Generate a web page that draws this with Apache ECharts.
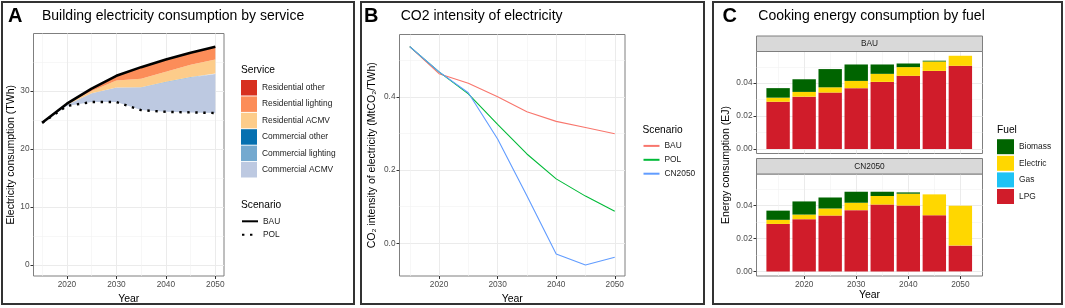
<!DOCTYPE html>
<html><head><meta charset="utf-8">
<script src="https://cdn.jsdelivr.net/npm/echarts@6/dist/echarts.min.js"></script>
<style>html,body{margin:0;padding:0;background:#fff}#c{width:1065px;height:308px}</style>
</head><body><div id="c"></div>
<script>
// ---------- data ----------
const years = [2015, 2020, 2025, 2030, 2035, 2040, 2045, 2050];
// Panel A (TWh): POL level and savings by service stacked on top of it
const aPOL = [24.5, 27.4, 28.1, 28.1, 26.7, 26.4, 26.3, 26.2];
const aBAU = [24.5, 27.8, 30.4, 32.6, 34.1, 35.4, 36.6, 37.6];
const aCommercialACMV = [0, 0.2, 1.5, 2.5, 3.9, 5.1, 6.0, 6.7];
const aCommercialLighting = [0, 0, 0, 0, 0.05, 0.1, 0.1, 0.1];
const aCommercialOther = [0, 0, 0, 0, 0, 0, 0, 0];
const aResidentialACMV = [0, 0.1, 0.4, 1.2, 1.45, 1.7, 2.1, 2.4];
const aResidentialLighting = [0, 0.1, 0.4, 0.8, 2.0, 2.1, 2.1, 2.2];
const aResidentialOther = [0, 0, 0, 0, 0, 0, 0, 0];
// Panel B (MtCO2/TWh)
const bBAU = [0.537, 0.463, 0.437, 0.400, 0.359, 0.333, 0.316, 0.299];
const bPOL = [0.537, 0.468, 0.408, 0.325, 0.244, 0.176, 0.129, 0.088];
const bCN2050 = [0.537, 0.468, 0.411, 0.285, 0.130, -0.029, -0.059, -0.038];
// Panel C (EJ)
const cBauLPG = [0.0287, 0.0318, 0.0343, 0.0370, 0.0408, 0.0445, 0.0475, 0.0506];
const cBauGas = [0, 0, 0, 0, 0, 0, 0, 0];
const cBauElectric = [0.0025, 0.0029, 0.0032, 0.0044, 0.0049, 0.0053, 0.0057, 0.0061];
const cBauBiomass = [0.0058, 0.0077, 0.0111, 0.0100, 0.0057, 0.0022, 0.0005, 0];
const cCnLPG = [0.0289, 0.0318, 0.0340, 0.0373, 0.0407, 0.0401, 0.0342, 0.0157];
const cCnGas = [0, 0, 0, 0, 0, 0, 0, 0];
const cCnElectric = [0.0025, 0.0028, 0.0043, 0.0045, 0.0052, 0.0072, 0.0127, 0.0243];
const cCnBiomass = [0.0056, 0.0080, 0.0067, 0.0067, 0.0026, 0.0008, 0, 0];
// tick labels / grid breaks
const xTicks = [2020, 2030, 2040, 2050];
const xMinor = [2015, 2025, 2035, 2045];
const aYTicks = [0, 10, 20, 30];
const aYMinor = [5, 15, 25, 35];
const bYTicks = [0, 0.2, 0.4];
const bYMinor = [0.1, 0.3, 0.5];
const cYTicks = [0, 0.02, 0.04];
const cYMinor = [0.01, 0.03, 0.05];

// ---------- helpers ----------
const FONT = 'Liberation Sans';
// value first, year second (encode maps x <- dim 1, y <- dim 0) so stacking happens on the value
const pairs = arr => years.map((y, i) => [arr[i], y]);
const ENC = {x: 1, y: 0};
const tickColor = '#333';
function majorAxis(o) {
  return {
    type: 'value', gridIndex: o.grid, min: o.min, max: o.max, position: o.pos,
    axisLine: {show: false, onZero: false},
    axisTick: {show: o.ticks !== false, length: 3, lineStyle: {color: tickColor, width: 1}, customValues: o.values},
    axisLabel: {show: o.labels !== false, customValues: o.values, margin: o.margin, fontSize: 8.3, color: '#4D4D4D',
      fontFamily: FONT, formatter: o.fmt || (v => String(v))},
    splitLine: {show: true, lineStyle: {color: '#EBEBEB', width: 1}},
    name: o.name || '', nameLocation: 'middle', nameGap: o.nameGap || 0,
    nameTextStyle: {fontSize: 10.5, color: '#000', fontFamily: FONT}
  };
}
function minorAxis(o) {
  return {
    type: 'value', gridIndex: o.grid, min: o.min, max: o.max, position: o.pos,
    axisLine: {show: false, onZero: false},
    axisTick: {show: false, customValues: o.values},
    axisLabel: {show: false},
    splitLine: {show: true, lineStyle: {color: '#F2F2F2', width: 0.6}}
  };
}
const AX = {min: 2013.25, max: 2051.75};
const AY = {min: -1.9, max: 39.9};
const BY = {min: -0.089, max: 0.570};
const CX = {min: 2010.85, max: 2054.25};
const CY = {min: -0.0028, max: 0.0593};

const xAxis = [
  majorAxis({grid: 0, ...AX, pos: 'bottom', values: xTicks, margin: 5, name: 'Year', nameGap: 10.5}),
  minorAxis({grid: 0, ...AX, pos: 'bottom', values: xMinor}),
  majorAxis({grid: 1, ...AX, pos: 'bottom', values: xTicks, margin: 5, name: 'Year', nameGap: 10.5}),
  minorAxis({grid: 1, ...AX, pos: 'bottom', values: xMinor}),
  majorAxis({grid: 2, ...CX, pos: 'bottom', values: xTicks, ticks: false, labels: false}),
  minorAxis({grid: 2, ...CX, pos: 'bottom', values: xMinor}),
  majorAxis({grid: 3, ...CX, pos: 'bottom', values: xTicks, margin: 5, name: 'Year', nameGap: 10.5}),
  minorAxis({grid: 3, ...CX, pos: 'bottom', values: xMinor})
];
const yAxis = [
  majorAxis({grid: 0, ...AY, pos: 'left', values: aYTicks, margin: 4, name: 'Electricity consumption (TWh)', nameGap: 14.5}),
  minorAxis({grid: 0, ...AY, pos: 'left', values: aYMinor}),
  majorAxis({grid: 1, ...BY, pos: 'left', values: bYTicks, margin: 4, fmt: v => v.toFixed(1),
    name: 'CO\u2082 intensity of electricity (MtCO\u2082/TWh)', nameGap: 22}),
  minorAxis({grid: 1, ...BY, pos: 'left', values: bYMinor}),
  majorAxis({grid: 2, ...CY, pos: 'left', values: cYTicks, margin: 4, fmt: v => v.toFixed(2)}),
  minorAxis({grid: 2, ...CY, pos: 'left', values: cYMinor}),
  majorAxis({grid: 3, ...CY, pos: 'left', values: cYTicks, margin: 4, fmt: v => v.toFixed(2)}),
  minorAxis({grid: 3, ...CY, pos: 'left', values: cYMinor})
];
const gridBase = {show: true, borderColor: '#7F7F7F', borderWidth: 1, backgroundColor: '#fff', outerBoundsMode: 'none', containLabel: false};
const grid = [
  {...gridBase, left: 33.5, top: 33.5, width: 190.5, height: 242.5},
  {...gridBase, left: 399.5, top: 34.5, width: 225.5, height: 241.5},
  {...gridBase, left: 756.5, top: 51.5, width: 226, height: 102},
  {...gridBase, left: 756.5, top: 174, width: 226, height: 102}
];

// ---------- series ----------
const series = [];
series.push({type: 'line', name: '_base', xAxisIndex: 0, yAxisIndex: 0, stack: 'A', data: pairs(aPOL), encode: ENC,
  symbol: 'none', lineStyle: {width: 0}, silent: true, z: 2});
const aServices = [
  ['Commercial ACMV', aCommercialACMV, '#BDC9E1'],
  ['Commercial lighting', aCommercialLighting, '#74A9CF'],
  ['Commercial other', aCommercialOther, '#0570B0'],
  ['Residential ACMV', aResidentialACMV, '#FDCC8A'],
  ['Residential lighting', aResidentialLighting, '#FC8D59'],
  ['Residential other', aResidentialOther, '#D7301F']
];
aServices.forEach(([n, arr, c]) => series.push({
  type: 'line', name: n, xAxisIndex: 0, yAxisIndex: 0, stack: 'A', data: pairs(arr), encode: ENC, symbol: 'none',
  lineStyle: {width: 0, color: c}, itemStyle: {color: c}, areaStyle: {color: c, opacity: 1}, z: 2, silent: true
}));
series.push({type: 'line', name: 'A:POL', xAxisIndex: 0, yAxisIndex: 0, data: pairs(aPOL), encode: ENC, symbol: 'none',
  itemStyle: {color: '#000'}, lineStyle: {color: '#000', width: 2.4, type: [2.4, 5.6], cap: 'butt'}, z: 5, silent: true});
series.push({type: 'line', name: 'A:BAU', xAxisIndex: 0, yAxisIndex: 0, data: pairs(aBAU), encode: ENC, symbol: 'none',
  itemStyle: {color: '#000'}, lineStyle: {color: '#000', width: 2.6}, z: 6, silent: true});

[['B:BAU', bBAU, '#F8766D'], ['B:POL', bPOL, '#00BA38'], ['B:CN2050', bCN2050, '#619CFF']].forEach(([n, arr, c]) =>
  series.push({type: 'line', name: n, xAxisIndex: 2, yAxisIndex: 2, data: pairs(arr), encode: ENC, symbol: 'none',
    itemStyle: {color: c}, lineStyle: {color: c, width: 1.1}, z: 3, silent: true}));

const fuelColors = {LPG: '#D01C2A', Gas: '#1EC3F5', Electric: '#FFD700', Biomass: '#006400'};
const cPanels = [
  [4, {LPG: cBauLPG, Gas: cBauGas, Electric: cBauElectric, Biomass: cBauBiomass}],
  [6, {LPG: cCnLPG, Gas: cCnGas, Electric: cCnElectric, Biomass: cCnBiomass}]
];
cPanels.forEach(([ax, d]) => ['LPG', 'Gas', 'Electric', 'Biomass'].forEach(f => series.push({
  type: 'bar', name: f, xAxisIndex: ax, yAxisIndex: ax, stack: 'C' + ax, data: pairs(d[f]), encode: ENC, barWidth: 23.4,
  itemStyle: {color: fuelColors[f]}, silent: true, z: 2
})));

// ---------- legends ----------
const legText = {fontSize: 8.4, color: '#1A1A1A', fontFamily: FONT};
const legend = [
  {left: 241, top: 80, orient: 'vertical', padding: 0, itemWidth: 16, itemHeight: 15.5, itemGap: 0.9, icon: 'rect',
   selectedMode: false, textStyle: legText,
   data: ['Residential other', 'Residential lighting', 'Residential ACMV', 'Commercial other', 'Commercial lighting', 'Commercial ACMV']},
  {left: 241, top: 215.7, orient: 'vertical', padding: 0, itemWidth: 16, itemHeight: 14, itemGap: 2.3,
   selectedMode: false, textStyle: legText, formatter: n => n.slice(2),
   itemStyle: {color: 'rgba(0,0,0,0)', borderColor: 'rgba(0,0,0,0)', borderWidth: 0},
   data: ['A:BAU', 'A:POL']},
  {left: 642.5, top: 140.3, orient: 'vertical', padding: 0, itemWidth: 16, itemHeight: 14, itemGap: 2.7,
   selectedMode: false, textStyle: legText, formatter: n => n.slice(2),
   itemStyle: {color: 'rgba(0,0,0,0)', borderColor: 'rgba(0,0,0,0)', borderWidth: 0},
   data: ['B:BAU', 'B:POL', 'B:CN2050']},
  {left: 997, top: 139.2, orient: 'vertical', padding: 0, itemWidth: 17, itemHeight: 15, itemGap: 1.6, icon: 'rect',
   selectedMode: false, textStyle: legText, data: ['Biomass', 'Electric', 'Gas', 'LPG']}
];

// ---------- decorations ----------
const txt = (x, y, s, size, extra) => ({type: 'text', x, y, silent: true, z: 10,
  style: Object.assign({text: s, fontSize: size, fontFamily: FONT, fill: '#000', align: 'left', verticalAlign: 'middle'}, extra || {})});
const graphic = [
  {type: 'rect', shape: {x: 2, y: 2, width: 352, height: 302}, style: {fill: 'none', stroke: '#333', lineWidth: 2}, silent: true, z: 0},
  {type: 'rect', shape: {x: 361, y: 2, width: 343, height: 302}, style: {fill: 'none', stroke: '#333', lineWidth: 2}, silent: true, z: 0},
  {type: 'rect', shape: {x: 713, y: 2, width: 349, height: 302}, style: {fill: 'none', stroke: '#333', lineWidth: 2}, silent: true, z: 0},
  txt(8, 16.5, 'A', 20, {fontWeight: 'bold'}),
  txt(42, 16.3, 'Building electricity consumption by service', 14),
  txt(364, 16.5, 'B', 20, {fontWeight: 'bold'}),
  txt(400.7, 16.3, 'CO2 intensity of electricity', 14),
  txt(722.5, 16.5, 'C', 20, {fontWeight: 'bold'}),
  txt(758.3, 16.3, 'Cooking energy consumption by fuel', 14),
  txt(241, 70, 'Service', 10.2),
  txt(241, 205, 'Scenario', 10.2),
  txt(642.5, 129.7, 'Scenario', 10.2),
  txt(997, 130, 'Fuel', 10.2),
  {type: 'rect', shape: {x: 756.5, y: 36, width: 226, height: 15.5}, style: {fill: '#D9D9D9', stroke: '#7F7F7F', lineWidth: 1}, silent: true, z: 1},
  {type: 'rect', shape: {x: 756.5, y: 158.5, width: 226, height: 15.5}, style: {fill: '#D9D9D9', stroke: '#7F7F7F', lineWidth: 1}, silent: true, z: 1},
  txt(869.5, 44, 'BAU', 8.3, {align: 'center', fill: '#1A1A1A'}),
  txt(869.5, 166.5, 'CN2050', 8.3, {align: 'center', fill: '#1A1A1A'}),
  Object.assign(txt(726, 165, 'Energy consumption (EJ)', 10.5, {align: 'center'}), {rotation: Math.PI / 2})
];

const chart = echarts.init(document.getElementById('c'), null, {renderer: 'canvas'});
chart.setOption({
  animation: false,
  backgroundColor: '#fff',
  textStyle: {fontFamily: FONT},
  grid, xAxis, yAxis, series, legend, graphic
});
</script></body></html>
